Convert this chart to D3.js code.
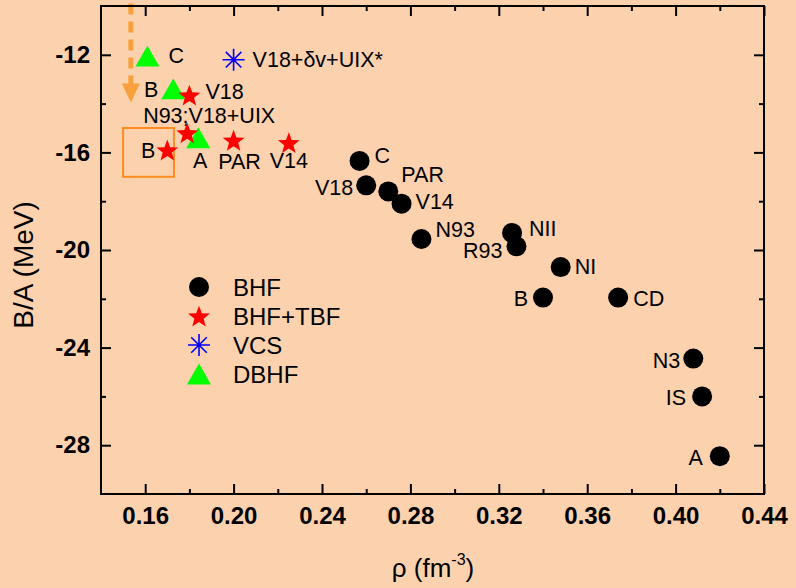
<!DOCTYPE html>
<html>
<head>
<meta charset="utf-8">
<script src="https://cdn.jsdelivr.net/npm/d3@7"></script>
<style>
  html, body { margin: 0; padding: 0; background: #FCD1AE; }
  svg { display: block; }
  text { font-family: Arial, "Liberation Sans", sans-serif; fill: #000; }
</style>
</head>
<body>
<svg id="chart" width="796" height="588"></svg>
<script>
// ---- data: density rho (fm^-3) and binding energy per nucleon B/A (MeV) ----
const bhfLabels = ["C", "V18", "PAR", "V14", "N93", "NII", "R93", "NI", "B", "CD", "N3", "IS", "A"];
const bhfRho    = [0.257, 0.260, 0.270, 0.276, 0.285, 0.326, 0.328, 0.348, 0.340, 0.374, 0.408, 0.412, 0.420];
const bhfBA     = [-16.35, -17.35, -17.6, -18.1, -19.55, -19.3, -19.85, -20.7, -21.95, -21.95, -24.45, -26.0, -28.45];

const tbfLabels = ["B", "N93;V18+UIX", "V18", "PAR", "V14"];
const tbfRho    = [0.170, 0.179, 0.180, 0.200, 0.225];
const tbfBA     = [-15.9, -15.2, -13.65, -15.5, -15.6];

const vcsLabels = ["V18+δv+UIX*"];
const vcsRho    = [0.200];
const vcsBA     = [-12.2];

const dbhfLabels = ["C", "B", "A"];
const dbhfRho    = [0.161, 0.1727, 0.184];
const dbhfBA     = [-12.05, -13.4, -15.4];

const legendNames = ["BHF", "BHF+TBF", "VCS", "DBHF"];

const xMajorTicks = [0.16, 0.20, 0.24, 0.28, 0.32, 0.36, 0.40, 0.44];
const xMinorTicks = [0.18, 0.22, 0.26, 0.30, 0.34, 0.38, 0.42];
const yMajorTicks = [-12, -16, -20, -24, -28];
const yMinorTicks = [-14, -18, -22, -26];

// highlighted region (box) and the arrow pointing into it, in data units
const boxRho = [0.150, 0.173];
const boxBA  = [-15.0, -17.0];
const arrowRho = 0.1535;
const arrowBA  = [-9.9, -13.95];

// ---- label placement: [dx, dy, anchor] relative to each marker ----
const bhfLabelPos = [
  [15, -6, "start"], [-13, 2, "end"], [13, -17, "start"], [14, -2, "start"],
  [14, -10, "start"], [17, -5, "start"], [-14, 4, "end"], [14, -1, "start"],
  [-15, 1, "end"], [15, 1, "start"], [-13, 2, "end"], [-16, 1, "end"], [-17, 1, "end"]
];
const tbfLabelPos = [
  [-12, 0, "end"], [22, -18, "middle"], [16, -4, "start"], [6, 21, "middle"], [0, 18, "middle"]
];
const vcsLabelPos  = [[19, 0, "start"]];
const dbhfLabelPos = [[21, -1, "start"], [-15, 0, "end"], [2, 23, "middle"]];

// ---- layout ----
const svg = d3.select("#chart");
const W = 796, H = 588;
const x = d3.scaleLinear().domain([0.14, 0.44]).range([101, 764]);
const y = d3.scaleLinear().domain([-30, -10]).range([494, 6]);

svg.append("rect").attr("width", W).attr("height", H).attr("fill", "#FCD1AE");

const labelSize = 21.5;
const fontCenter = fs => 0.358 * fs;   // offset from cap-centre to baseline

// ---- marker shapes ----
function starPath(R) {
  const r = R * 0.42, pts = [];
  for (let i = 0; i < 10; i++) {
    const a = -Math.PI / 2 + i * Math.PI / 5;
    const rad = i % 2 === 0 ? R : r;
    pts.push([rad * Math.cos(a), rad * Math.sin(a) + R * 0.1]);
  }
  return "M" + pts.map(p => p.join(",")).join("L") + "Z";
}
function trianglePath(s) {
  const h = s * Math.sqrt(3) / 2;
  return `M0,${-h / 2}L${s / 2},${h / 2}L${-s / 2},${h / 2}Z`;
}
function asteriskPath(r) {
  const d = r * Math.SQRT1_2;
  return `M0,${-r}L0,${r}M${-r},0L${r},0M${-d},${-d}L${d},${d}M${-d},${d}L${d},${-d}`;
}

const markers = {
  circle:   g => g.append("circle").attr("r", 10).attr("fill", "#000"),
  star:     g => g.append("path").attr("d", starPath(11.5)).attr("fill", "#FF0000"),
  asterisk: g => g.append("path").attr("d", asteriskPath(11)).attr("fill", "none")
                   .attr("stroke", "#0000FF").attr("stroke-width", 1.6),
  triangle: g => g.append("path").attr("d", trianglePath(24)).attr("fill", "#00FF00")
};

// ---- annotation: orange box and dashed arrow ----
const ann = svg.append("g");
ann.append("rect")
  .attr("x", x(boxRho[0])).attr("y", y(boxBA[0]))
  .attr("width", x(boxRho[1]) - x(boxRho[0]))
  .attr("height", y(boxBA[1]) - y(boxBA[0]))
  .attr("fill", "none").attr("stroke", "#FF8A1E").attr("stroke-width", 2);

const ax = x(arrowRho), ay0 = y(arrowBA[0]), ay1 = y(arrowBA[1]);
ann.append("line")
  .attr("x1", ax).attr("x2", ax).attr("y1", ay0).attr("y2", ay1 - 17)
  .attr("stroke", "#F8A03C").attr("stroke-width", 5).attr("stroke-dasharray", "11,7");
ann.append("path")
  .attr("d", `M${ax - 9},${ay1 - 19}L${ax + 9},${ay1 - 19}L${ax},${ay1}Z`)
  .attr("fill", "#F8A03C");

// ---- series ----
function drawSeries(rhoArr, baArr, labels, pos, shape) {
  const g = svg.append("g");
  rhoArr.forEach((rho, i) => {
    const px = x(rho), py = y(baArr[i]);
    const m = g.append("g").attr("transform", `translate(${px},${py})`);
    markers[shape](m);
    const [dx, dy, anchor] = pos[i];
    g.append("text")
      .attr("x", px + dx).attr("y", py + dy + fontCenter(labelSize))
      .attr("text-anchor", anchor)
      .attr("font-size", labelSize)
      .text(labels[i]);
  });
}

drawSeries(bhfRho, bhfBA, bhfLabels, bhfLabelPos, "circle");
drawSeries(dbhfRho, dbhfBA, dbhfLabels, dbhfLabelPos, "triangle");
drawSeries(tbfRho, tbfBA, tbfLabels, tbfLabelPos, "star");
drawSeries(vcsRho, vcsBA, vcsLabels, vcsLabelPos, "asterisk");

// ---- legend ----
const legendShapes = ["circle", "star", "asterisk", "triangle"];
const legend = svg.append("g").attr("transform", "translate(199,287)");
legendNames.forEach((name, i) => {
  const row = legend.append("g").attr("transform", `translate(0,${i * 29})`);
  markers[legendShapes[i]](row);
  row.append("text").attr("x", 34).attr("y", fontCenter(24))
    .attr("font-size", 24).text(name);
});

// ---- axes with inward ticks on all four sides ----
const fmtX = d3.format(".2f");
function styleAxis(g) {
  g.select(".domain").remove();
  g.selectAll(".tick line").attr("stroke", "#000").attr("stroke-width", 2);
  g.selectAll(".tick text").attr("font-size", 24).attr("font-weight", "bold")
    .attr("font-family", "Arial, 'Liberation Sans', sans-serif").attr("fill", "#000");
}

svg.append("g").attr("transform", "translate(0,494)")
  .call(d3.axisBottom(x).tickValues(xMajorTicks).tickSize(-10).tickPadding(13).tickFormat(fmtX))
  .call(styleAxis);
svg.append("g").attr("transform", "translate(0,494)")
  .call(d3.axisBottom(x).tickValues(xMinorTicks).tickSize(-5).tickFormat(""))
  .call(styleAxis);
svg.append("g").attr("transform", "translate(0,6)")
  .call(d3.axisTop(x).tickValues(xMajorTicks).tickSize(-10).tickFormat(""))
  .call(styleAxis);
svg.append("g").attr("transform", "translate(0,6)")
  .call(d3.axisTop(x).tickValues(xMinorTicks).tickSize(-5).tickFormat(""))
  .call(styleAxis);

svg.append("g").attr("transform", "translate(101,0)")
  .call(d3.axisLeft(y).tickValues(yMajorTicks).tickSize(-10).tickPadding(11).tickFormat(d3.format("d")))
  .call(styleAxis);
svg.append("g").attr("transform", "translate(101,0)")
  .call(d3.axisLeft(y).tickValues(yMinorTicks).tickSize(-5).tickFormat(""))
  .call(styleAxis);
svg.append("g").attr("transform", "translate(764,0)")
  .call(d3.axisRight(y).tickValues(yMajorTicks).tickSize(-10).tickFormat(""))
  .call(styleAxis);
svg.append("g").attr("transform", "translate(764,0)")
  .call(d3.axisRight(y).tickValues(yMinorTicks).tickSize(-5).tickFormat(""))
  .call(styleAxis);

// use a plain hyphen for negative numbers
svg.selectAll(".tick text").each(function () {
  const t = d3.select(this);
  t.text(t.text().replace("\u2212", "-"));
});

// frame
svg.append("rect")
  .attr("x", 101).attr("y", 6).attr("width", 663).attr("height", 488)
  .attr("fill", "none").attr("stroke", "#000").attr("stroke-width", 2);

// ---- axis titles ----
svg.append("text")
  .attr("transform", "translate(33,265) rotate(-90)")
  .attr("text-anchor", "middle").attr("font-size", 28)
  .text("B/A (MeV)");

const xt = svg.append("text")
  .attr("x", 433).attr("y", 577).attr("text-anchor", "middle").attr("font-size", 26);
xt.append("tspan").text("ρ (fm");
xt.append("tspan").attr("font-size", 16).attr("dy", -12).text("-3");
xt.append("tspan").attr("dy", 12).text(")");
</script>
</body>
</html>
